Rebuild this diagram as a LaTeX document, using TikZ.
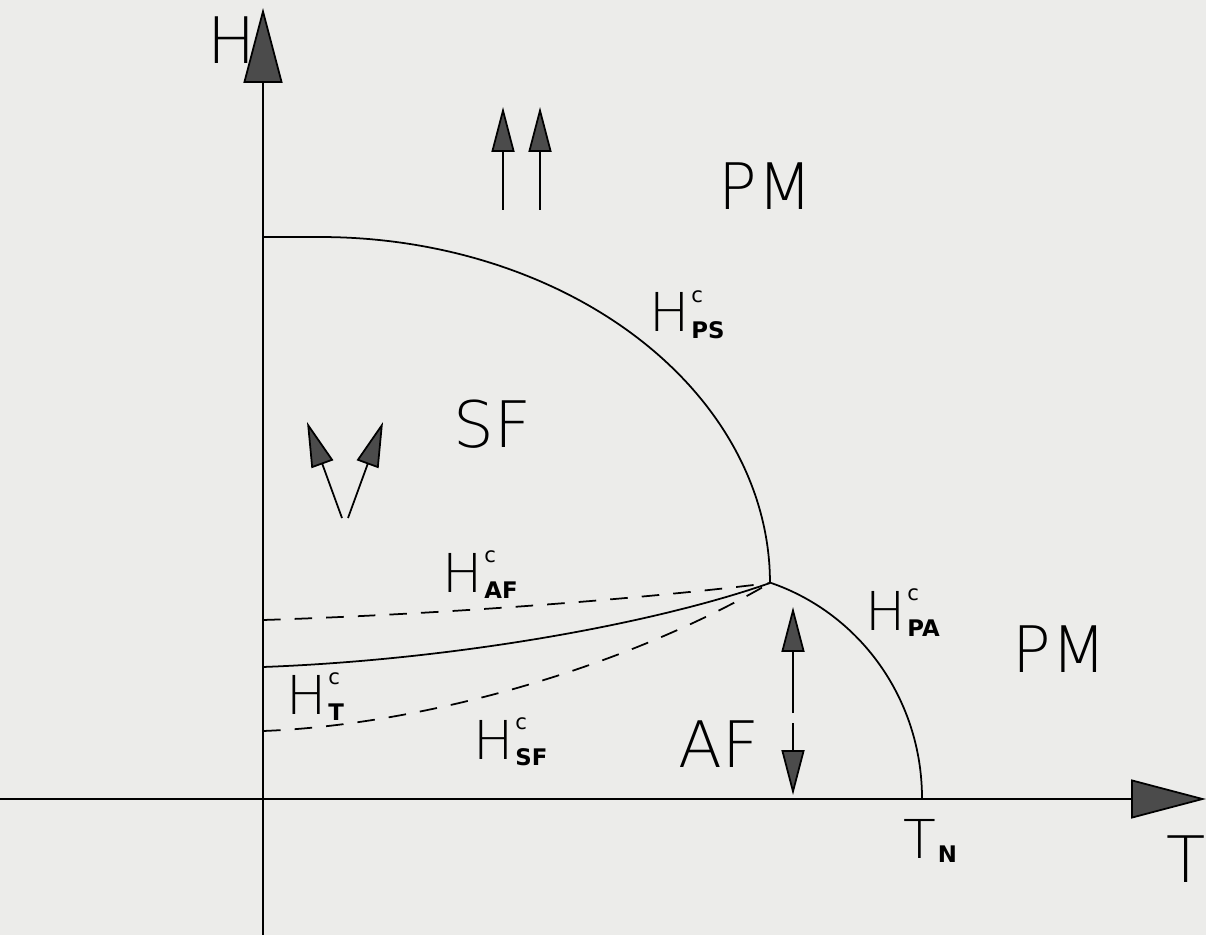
\documentclass[tikz,border=0pt]{standalone}
\usepackage{fontspec}
\setmainfont{DejaVu Sans}[UprightFont=* ExtraLight]
\newfontfamily\subfont{DejaVu Sans}
\usetikzlibrary{arrows.meta}
\definecolor{paper}{RGB}{236,236,234}
\definecolor{tipgray}{RGB}{75,75,75}

\newcommand{\bigfont}{\fontsize{36.5}{36.5}\selectfont}
\newcommand{\midfont}{\fontsize{30.5}{30.5}\selectfont}
\newcommand{\hcrit}[1]{{\midfont H}\kern1pt%
  \rlap{\raisebox{17pt}{\subfont\fontsize{12}{12}\selectfont c}}%
  \raisebox{-3.5pt}{\subfont\bfseries\fontsize{13}{13}\selectfont #1}}

\begin{document}
\begin{tikzpicture}[x=0.02cm,y=-0.02cm,
                axis/.style={line width=1pt,
                             -{Triangle[length=1.5cm,width=0.78cm,fill=tipgray]}},
                spin/.style={line width=1pt,
                             -{Triangle[length=0.9cm,width=0.46cm,fill=tipgray]}},
                crit/.style={line width=1pt},
                critdash/.style={line width=1pt,dash pattern=on 10pt off 8pt},
                lab/.style={anchor=base west,inner sep=0pt}]
                \useasboundingbox (0,0) rectangle (1206,935);
                \fill[paper] (0,0) rectangle (1206,935);
                \coordinate (O)  at (263,799);
                \coordinate (tc) at (770,583);
                % axes
                \draw[axis] (263,935) -- (263,8);
                \draw[axis] (0,799) -- (1206,799);
                \node[lab] (hlab) at (207,64)  {\bigfont H};
                \node[lab] (tlab) at (1166,882) {\bigfont T};
                % phase boundaries
                \draw[crit] (263,237) -- plot[domain=90:0,samples=60,smooth]
                      ({320+450*cos(\x)},{583-346*sin(\x)});
                \draw[crit] plot[domain=71.6:0,samples=40,smooth]
                      ({700+222*cos(\x)},{798-227*sin(\x)});
                \draw[crit] (263,667) .. controls (450,660) and (650,625) .. (tc);
                \draw[critdash] (263,620) .. controls (450,614) and (650,598) .. (tc);
                \draw[critdash] (263,731) .. controls (420,725) and (620,670) .. (tc);
                % phases
                \node[lab] (pmtop)   at (718,210)  {\bigfont PM};
                \node[lab] (pmright) at (1012,672) {\bigfont PM};
                \node[lab] (sflab)   at (453,447)  {\bigfont SF};
                \node[lab] (aflab)   at (678,767)  {\bigfont AF};
                % critical fields
                \node[lab] (hps) at (649,332) {\hcrit{PS}};
                \node[lab] (hpa) at (865,630) {\hcrit{PA}};
                \node[lab] (haf) at (442,592) {\hcrit{AF}};
                \node[lab] (hsf) at (473,759) {\hcrit{SF}};
                \node[lab] (ht)  at (286,714) {\hcrit{T}};
                \node[lab] (tn)  at (903,858) {{\midfont T}\kern1pt%
                      \raisebox{-2.5pt}{\subfont\bfseries\fontsize{13}{13}\selectfont N}};
                % spins
                \draw[spin] (503,210) -- (503,107);
                \draw[spin] (540,210) -- (540,107);
                \draw[spin] (342,518) -- (307,422);
                \draw[spin] (348,518) -- (383,422);
                \draw[spin] (793,713) -- (793,607);
                \draw[spin] (793,723) -- (793,795);
            \end{tikzpicture}
\end{document}
